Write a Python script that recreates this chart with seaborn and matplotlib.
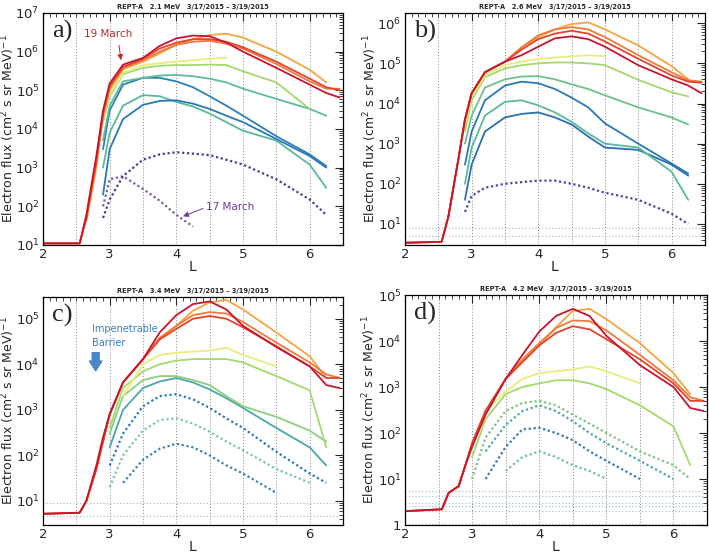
import numpy as np
import pandas as pd
import matplotlib
matplotlib.use("Agg")
import matplotlib.pyplot as plt
import seaborn as sns
from matplotlib.ticker import FuncFormatter, LogLocator, MultipleLocator, NullFormatter

sns.set_style("white")
plt.rcParams['font.family'] = ['DejaVu Sans']

n = np.nan
# L grid shared by every pass
L = [2.0, 2.55, 2.65, 2.8, 2.9, 3.0, 3.2, 3.5, 3.75, 4.0, 4.25, 4.5, 4.75, 5.0, 5.5, 6.0, 6.25, 6.45]

titles = ["REPT-A   2.1 MeV   3/17/2015 \u2013 3/19/2015",
          "REPT-A   2.6 MeV   3/17/2015 \u2013 3/19/2015",
          "REPT-A   3.4 MeV   3/17/2015 \u2013 3/19/2015",
          "REPT-A   4.2 MeV   3/17/2015 \u2013 3/19/2015"]
letters = ["a)", "b)", "c)", "d)"]
ylims = [(10, 1e7), (3, 1.8e6), (2.95, 3e5), (1, 1e5)]

# 2.1 MeV
flux_a = [
    [n, n, n, n, 1e2, 5e2, 6e2, 2.8e2, 1.4e2, 6e1, 3e1, n, n, n, n, n, n, n],               # 17 March
    [n, n, n, n, 5e1, 1.5e2, 6e2, 1.6e3, 2.2e3, 2.5e3, 2.3e3, 2.1e3, 1.6e3, 1.2e3, 5e2, 1.5e2, 6e1, n],
    [n, n, n, n, 1e3, 8e3, 4e4, 7.5e4, 7e4, 5e4, 3.8e4, 2.5e4, 1.5e4, 9e3, 5e3, 1.2e3, 3e2, n],
    [n, n, n, n, 2e2, 3e3, 1.8e4, 4.2e4, 5.3e4, 5.5e4, 4.5e4, 3.3e4, 2.2e4, 1.5e4, 5.5e3, 2e3, 1e3, n],
    [n, n, n, n, 3e3, 3e4, 1.4e5, 2.1e5, 2.1e5, 1.7e5, 1.2e5, 7e4, 4e4, 2.2e4, 6.5e3, 2.2e3, 1.1e3, n],
    [n, n, n, n, 5e3, 4e4, 1.7e5, 2.1e5, 2.4e5, 2.5e5, 2.3e5, 2e5, 1.6e5, 1.1e5, 6e4, 3.3e4, 2.2e4, n],
    [n, n, n, n, 1.5e4, 7e4, 2.6e5, 3.8e5, 4.3e5, 4.5e5, 4.5e5, 4.6e5, 4.5e5, 3.1e5, 1.6e5, 3.3e4, n, n],
    [n, n, n, n, 2e4, 8e4, 2.8e5, 4.5e5, 5e5, 5.5e5, 6e5, 6.5e5, 7e5, n, n, n, n, n],
    [n, n, 40, 1e3, 2e4, 1e5, 3.5e5, 5.5e5, 9e5, 1.5e6, 2.1e6, 2.7e6, 2.9e6, 2.3e6, 1e6, 3.4e5, 1.6e5, n],
    [11, 11, 50, 1.5e3, 2.5e4, 1.2e5, 3.8e5, 6e5, 1e6, 1.5e6, 1.8e6, 1.9e6, 1.6e6, 1.2e6, 4.8e5, 1.7e5, 1.1e5, 1.1e5],
    [11, 11, 50, 1.5e3, 2.5e4, 1.3e5, 4e5, 6.5e5, 1.2e6, 1.7e6, 2.1e6, 2.1e6, 1.8e6, 1.3e6, 5.5e5, 2e5, 1.2e5, 1e5],
    [11, 11, 60, 2e3, 3e4, 1.5e5, 4.6e5, 6.9e5, 1.4e6, 2.2e6, 2.6e6, 2.5e6, 1.7e6, 1e6, 3.8e5, 1.4e5, 8.5e4, 6.5e4],   # 19 March
]

# 2.6 MeV
flux_b = [
    [n, n, n, n, 20, 50, 80, 1e2, 1.1e2, 1.2e2, 1.2e2, 1e2, 8e1, 6e1, 4e1, 1.8e1, 1e1, n],
    [n, n, n, n, 40, 3e2, 2e3, 4.5e3, 5.5e3, 6e3, 4.5e3, 3e3, 1.5e3, 8e2, 7e2, 3e2, 1.6e2, n],
    [n, n, n, n, 1e2, 8e2, 5e3, 1.1e4, 1.2e4, 9e3, 6e3, 3.5e3, 1.8e3, 1e3, 8e2, 2e2, 4e1, n],
    [n, n, n, n, 3e2, 2e3, 1.2e4, 2.8e4, 3.5e4, 3.2e4, 2.3e4, 1.4e4, 8e3, 3.2e3, 1e3, 3.2e2, 1.8e2, n],
    [n, n, n, n, 1e3, 5e3, 2.5e4, 4e4, 4.7e4, 4.8e4, 4e4, 3e4, 2.3e4, 1.6e4, 8e3, 4.5e3, 3e3, n],
    [n, n, n, n, 2e3, 1.2e4, 4.5e4, 7.5e4, 9e4, 1e5, 1.05e5, 1.05e5, 1e5, 9e4, 3.9e4, 1.9e4, 1.5e4, n],
    [n, n, n, n, 3e3, 1.5e4, 5e4, 9e4, 1.1e5, 1.3e5, 1.4e5, 1.5e5, 1.6e5, 1.5e5, n, n, n, n],
    [n, n, 15, 4e2, 4e3, 1.8e4, 6e4, 1.1e5, 2.5e5, 4.5e5, 7e5, 9.5e5, 1.05e6, 7e5, 2.8e5, 8.5e4, 4e4, n],
    [3.4, 3.6, 15, 4e2, 4e3, 1.8e4, 6e4, 1.1e5, 2.5e5, 5e5, 7e5, 8e5, 7e5, 4.5e5, 1.6e5, 6e4, 3.8e4, 3.5e4],
    [3.4, 3.6, 15, 4e2, 4e3, 1.8e4, 6e4, 1.1e5, 2.2e5, 4e5, 5.5e5, 6.5e5, 5.5e5, 3.5e5, 1.3e5, 5e4, 3.5e4, 3.3e4],
    [3.4, 3.6, 15, 4e2, 4e3, 1.8e4, 6e4, 1.1e5, 1.6e5, 2.6e5, 4.2e5, 4.7e5, 4e5, 2.6e5, 9e4, 4e4, 2.8e4, 1.8e4],
]

# 3.4 MeV
flux_c = [
    [n, n, n, n, n, n, 2.5e1, 8e1, 1.4e2, 1.8e2, 1.5e2, 1e2, 6e1, 4e1, 1.5e1, n, n, n],
    [n, n, n, n, n, 2e1, 1e2, 3.5e2, 6e2, 6.5e2, 5e2, 3.3e2, 2e2, 1.3e2, 5e1, 2.5e1, n, n],
    [n, n, n, n, n, 1.5e2, 1e3, 3e3, 4.2e3, 5e3, 4e3, 2.8e3, 1.8e3, 1.1e3, 4e2, 1.5e2, 6e1, n],
    [n, n, n, n, n, 6e1, 3e2, 1.2e3, 2e3, 2.2e3, 1.7e3, 1.1e3, 6.5e2, 4e2, 1.2e2, 4e1, 2.5e1, n],
    [n, n, n, n, n, 3e2, 2e3, 4.5e3, 5.5e3, 5.5e3, 4.5e3, 3.5e3, 2e3, 1.2e3, 7e2, 3.5e2, 2e2, n],
    [n, n, n, n, n, 4e2, 3e3, 7e3, 1e4, 1.2e4, 1.3e4, 1.3e4, 1.3e4, 1.1e4, 5.5e3, 2.7e3, 1.5e2, n],
    [n, n, n, n, n, n, 2e3, 1e4, 1.6e4, 1.8e4, 1.9e4, 2e4, 2.3e4, 1.6e4, 9e3, n, n, n],
    [n, n, 10, 50, 2e2, 8e2, 4e3, 1.3e4, 3.6e4, 7e4, 1.5e5, 2.3e5, 2.6e5, 1.6e5, 5e4, 1.5e4, 5e3, n],
    [5.2, 5.5, 10, 50, 2e2, 8e2, 4e3, 1.3e4, 3.8e4, 7e4, 1.2e5, 1.4e5, 1.3e5, 8.5e4, 3e4, 1.1e4, 6e3, 5e3],
    [5.2, 5.5, 10, 50, 2e2, 8e2, 4e3, 1.3e4, 3.5e4, 6e4, 1e5, 1.15e5, 1e5, 6.5e4, 2.5e4, 9e3, 5e3, 5e3],
    [5.2, 5.5, 10, 60, 2.5e2, 8e2, 4e3, 1.3e4, 5e4, 1.2e5, 2.1e5, 2.4e5, 1.6e5, 7e4, 2.4e4, 9e3, 3.5e3, 3e3],
]

# 4.2 MeV
flux_d = [
    [n, n, n, n, n, n, n, 1.5e1, 3e1, 4e1, 3e1, 2e1, 1.5e1, 1e1, n, n, n, n],
    [n, n, n, n, n, n, 1e1, 5e1, 1.2e2, 1.3e2, 1e2, 7e1, 4e1, 2.5e1, 1e1, n, n, n],
    [n, n, n, n, n, n, 4e1, 1.5e2, 3e2, 4e2, 3e2, 1.8e2, 1e2, 6e1, 2.5e1, 1e1, n, n],
    [n, n, n, n, n, 1e1, 8e1, 3e2, 4.5e2, 5e2, 4e2, 2.5e2, 1.6e2, 1e2, 4e1, 2e1, 1e1, n],
    [n, n, n, n, n, 3e1, 2e2, 7e2, 1e3, 1.2e3, 1.4e3, 1.4e3, 1.2e3, 9e2, 4e2, 1.4e2, 2e1, n],
    [n, n, n, n, n, n, 3e2, 8e2, 1.5e3, 2e3, 2.2e3, 2.4e3, 2.8e3, 2.2e3, 1.2e3, n, n, n],
    [n, n, 5, 7, 20, 60, 3e2, 1.5e3, 3.5e3, 8e3, 2e4, 4.5e4, 5e4, 3e4, 9e3, 2e3, 7e2, n],
    [2.0, 2.2, 5, 7, 20, 60, 3e2, 1.5e3, 4e3, 9e3, 1.9e4, 2.8e4, 2.7e4, 1.7e4, 5e3, 1.4e3, 6e2, 5e2],
    [2.0, 2.2, 5, 7, 20, 60, 3e2, 1.5e3, 3.5e3, 8e3, 1.5e4, 2.1e4, 1.8e4, 1.1e4, 4e3, 1.2e3, 5e2, 5e2],
    [2.0, 2.2, 5, 7, 20, 50, 2.5e2, 1.5e3, 5e3, 1.6e4, 3.5e4, 5e4, 3.5e4, 1.3e4, 3e3, 1e3, 3.5e2, 3e2],
]

# flat instrument floor rows
floor_b = [5.0, 8.0]
floor_c = [4.6, 9.0]
floor_d = [1.05, 2.0, 2.6, 3.0, 4.2, 5.5]
floors = [[], floor_b, floor_c, floor_d]

# pass colours, earliest (17 March) to latest (19 March)
late = ['#f5a540', '#f07a3a', '#e3452c', '#c8142e']
colors = [
    ['#7a5aa8', '#4b3b93', '#5cb89b', '#2a78b5', '#2d7fb8', '#5fbc96', '#a6d86e', '#e8ee7e'] + late,
    ['#5b3f9e', '#2a6fb0', '#5cb89b', '#2a78b5', '#6cc28a', '#a6d86e', '#e8ee7e'] + late,
    ['#3a7fb8', '#7cc8a0', '#4aa8a8', '#2a78b5', '#8ccf7e', '#a6d86e', '#e8ee7e'] + late,
    ['#6cbcb0', '#2f7ab5', '#4aa8a8', '#7cc47c', '#a6d86e', '#e8ee7e'] + late,
]
dot = (0, (1, 1.2))
styles = [
    [dot, dot] + ['-'] * 10,
    [dot] + ['-'] * 10,
    [dot, dot, '-', dot] + ['-'] * 7,
    [dot, dot, dot, dot, '-', '-'] + ['-'] * 4,
]

panels = [flux_a, flux_b, flux_c, flux_d]
positions = [[0.0607, 0.561, 0.423, 0.4158],
             [0.5712, 0.561, 0.423, 0.4158],
             [0.0607, 0.0591, 0.423, 0.4086],
             [0.5712, 0.0591, 0.426, 0.4122]]

fig = plt.figure(figsize=(7.09, 5.58), dpi=100)


def fmt(v, pos):
    e = int(round(np.log10(v)))
    return "1" if e == 0 else r"$10^{%d}$" % e


for p, flux in enumerate(panels):
    ax = fig.add_axes(positions[p])
    for lv in floors[p]:
        ax.hlines(lv, 2.0, 6.45, colors='#5a8fb0', linestyles=(0, (1, 2)), lw=0.8, alpha=0.6)
    for i, vals in enumerate(flux):
        df = pd.DataFrame({'L': L, 'flux': vals}).dropna()
        solid = styles[p][i] == '-'
        sns.lineplot(data=df, x='L', y='flux', ax=ax, color=colors[p][i], ls=styles[p][i],
                     lw=1.3 if solid else 1.6, estimator=None, sort=False)
    ax.set_yscale('log')
    ax.set_xlim(2, 6.5)
    ax.set_ylim(*ylims[p])
    for xv in [2.5, 3, 3.5, 4, 4.5, 5, 5.5, 6]:
        ax.axvline(xv, color='#888888', ls=(0, (1, 2)), lw=0.7, zorder=0)
    ax.xaxis.set_major_locator(MultipleLocator(1))
    ax.xaxis.set_minor_locator(MultipleLocator(0.1))
    ax.yaxis.set_major_locator(LogLocator(base=10, numticks=12))
    ax.yaxis.set_minor_locator(LogLocator(base=10, subs=np.arange(2, 10), numticks=12))
    ax.yaxis.set_major_formatter(FuncFormatter(fmt))
    ax.yaxis.set_minor_formatter(NullFormatter())
    ax.tick_params(which='major', direction='in', length=6, width=0.8, top=True, right=True,
                   labelsize=9.5, pad=2.5)
    ax.tick_params(which='minor', direction='in', length=3, width=0.6, top=True, right=True)
    for s in ax.spines.values():
        s.set_color('black')
        s.set_linewidth(0.9)
    ax.set_xlabel("L", fontsize=10, labelpad=-1)
    ax.set_ylabel(r"Electron flux (cm$^2$ s sr MeV)$^{-1}$", fontsize=9)
    ax.yaxis.set_label_coords(-0.088, 0.5)
    ax.set_title(titles[p], fontsize=4.8, fontweight='bold', pad=3)
    ax.text(0.03, 0.97, letters[p], transform=ax.transAxes, va='top', ha='left',
            fontsize=19, family='Liberation Serif')
    if p == 0:
        ax.annotate("19 March", xy=(3.17, 6e5), xytext=(2.62, 2.8e6), color='#c0262d',
                    fontsize=7.5, va='center',
                    arrowprops=dict(arrowstyle='-|>', color='#c0262d', lw=0.7, mutation_scale=8,
                                    shrinkA=2, shrinkB=0, relpos=(0.7, 0)))
        ax.annotate("17 March", xy=(4.1, 55), xytext=(4.45, 95), color='#6a3d9a',
                    fontsize=7.5, va='center',
                    arrowprops=dict(arrowstyle='-|>', color='#6a3d9a', lw=0.7, mutation_scale=8,
                                    shrinkA=0, shrinkB=0, relpos=(0, 0.5)))
    if p == 2:
        ax.text(2.73, 7.8e4, "Impenetrable\nBarrier", color='#3a7cc1', fontsize=7,
                va='top', ha='left', linespacing=1.5)
        ax.annotate("", xy=(2.79, 7.2e3), xytext=(2.79, 1.8e4),
                    arrowprops=dict(arrowstyle='simple,head_width=0.9,head_length=0.7,tail_width=0.5',
                                    color='#4a86c8', shrinkA=0, shrinkB=0))

fig.savefig("out.png", dpi=100)
